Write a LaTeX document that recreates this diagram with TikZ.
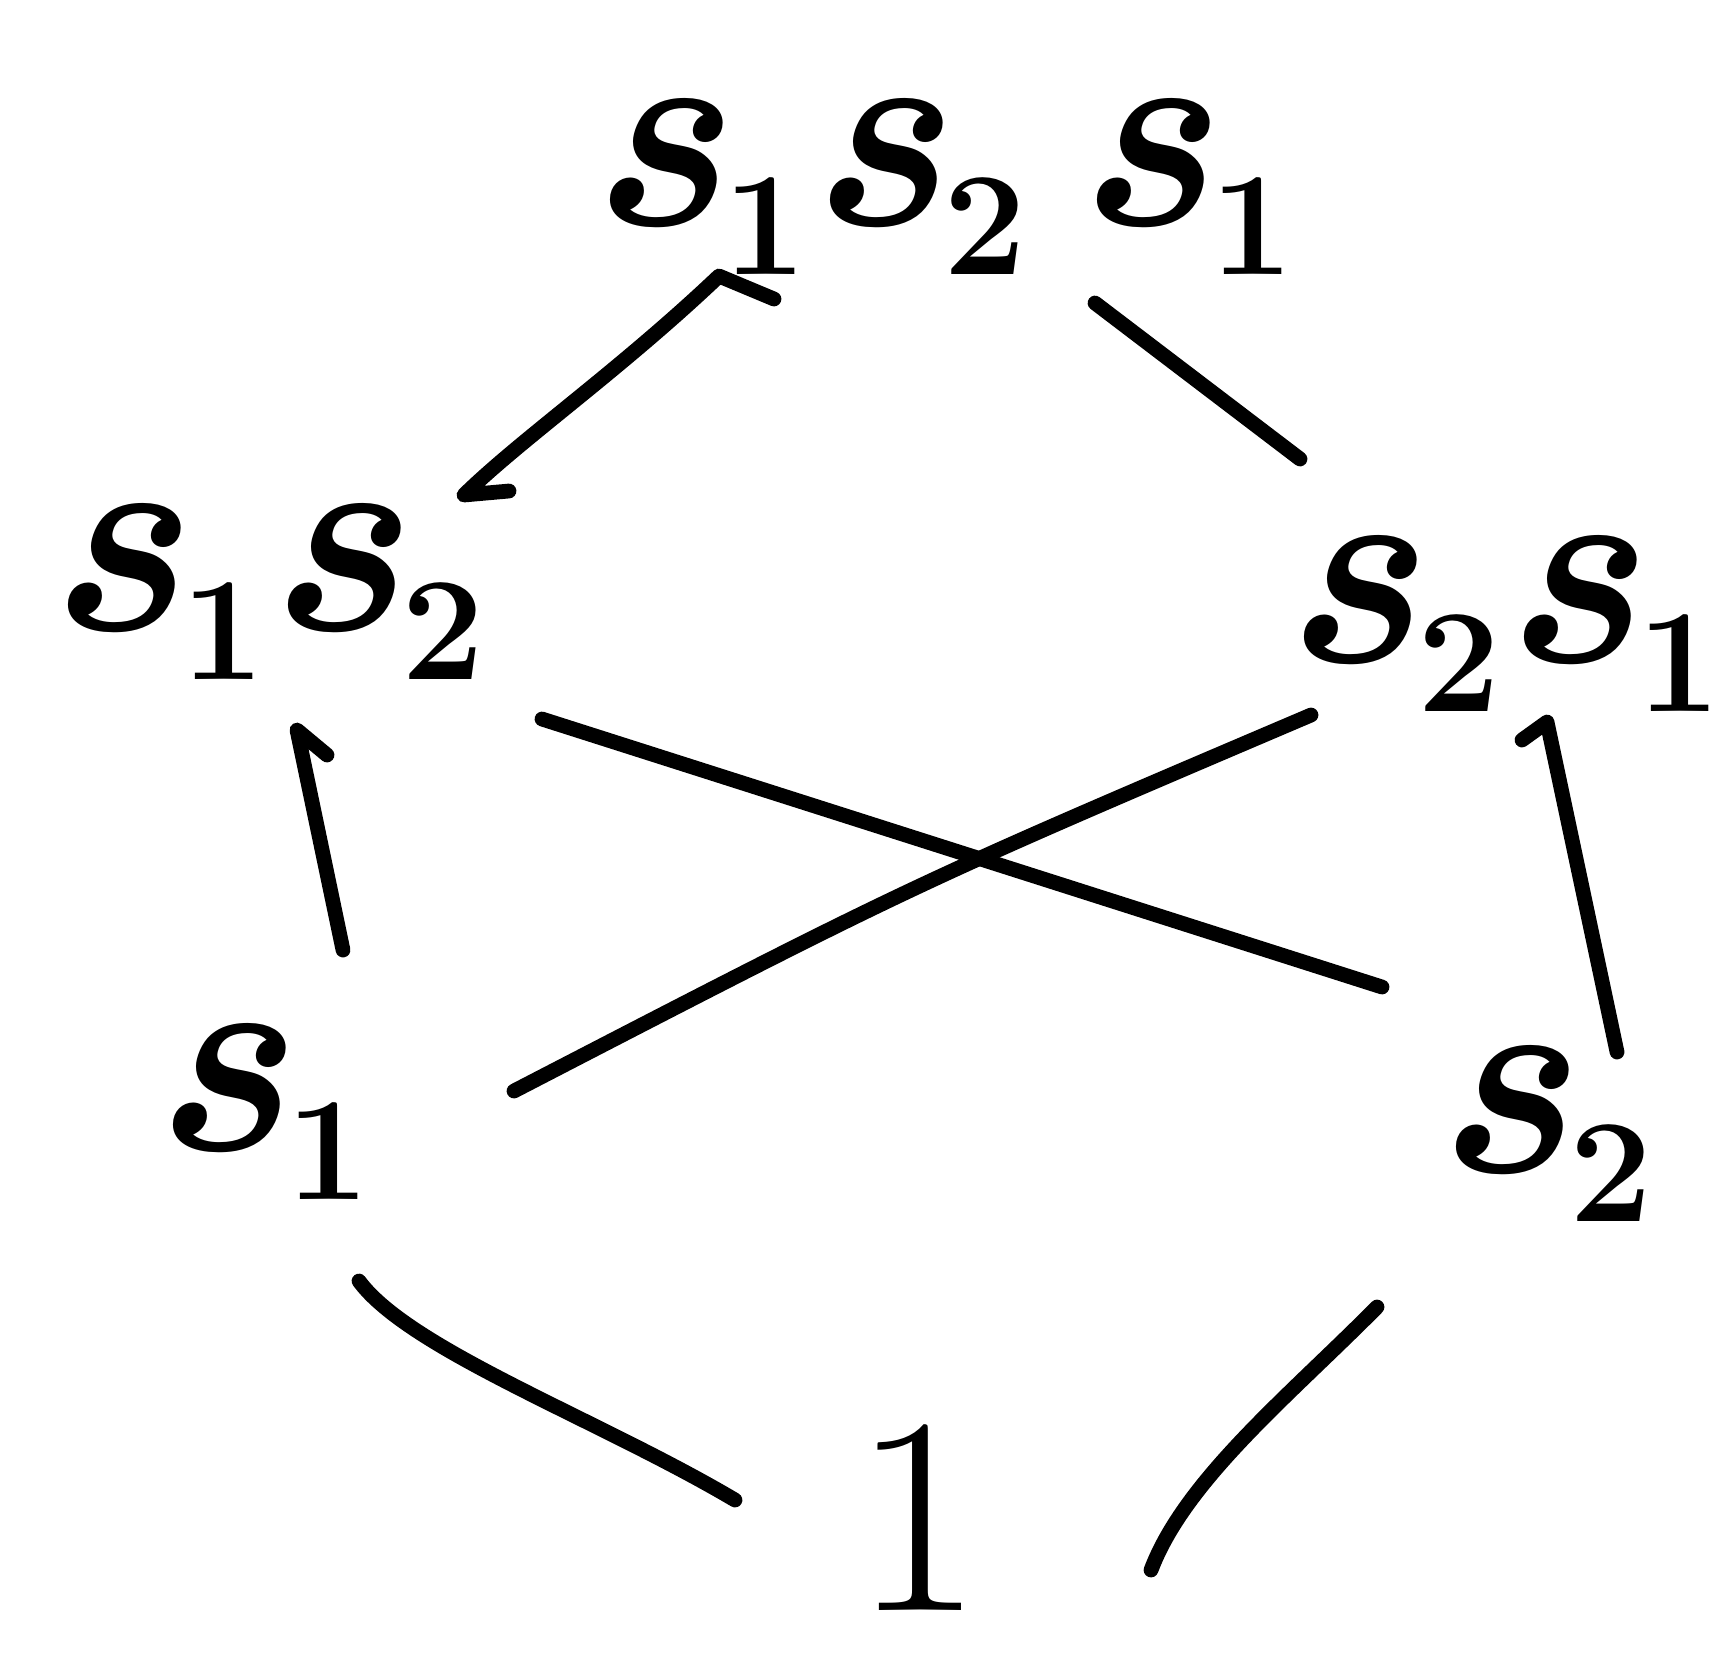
\documentclass[tikz,border=0pt]{standalone}
\usepackage{fontspec}
\setmainfont{Latin Modern Roman}
\usetikzlibrary{calc}
\newcommand{\ssub}[1]{\textbf{\textit{s}}\raisebox{-14pt}{\fontsize{42}{42}\selectfont\bfseries #1}}
\begin{document}
\begin{tikzpicture}[x=0.1mm,y=-0.1mm,
  lbl/.style={inner sep=0pt, anchor=base west, font=\fontsize{80}{96}\selectfont},
  edge/.style={line width=4.2pt, line cap=round, line join=round}]
\useasboundingbox (0,0) rectangle (1734,1675);
% nodes
\node[lbl] (top) at (586,225) {\ssub{1}\ssub{2}\,\ssub{1}};
\node[lbl] (s12) at (44,630) {\ssub{1}\ssub{2}};
\node[lbl] (s21) at (1280,662) {\ssub{2}\ssub{1}};
\node[lbl] (s1) at (149,1150) {\ssub{1}};
\node[lbl] (s2) at (1432,1172) {\ssub{2}};
\node[lbl,anchor=base] (one) at (918,1610) {1};
% connectors
\draw[edge] ($(top.base west)+(188,74)$) -- ($(top.base west)+(133,51)$)
  .. controls ($(top.base west)+(34,145)$) and ($(s12.base west)+(476,-190)$) .. ($(s12.base west)+(420,-135)$)
  -- ($(s12.base west)+(465,-139)$);
\draw[edge] ($(top.base west)+(509,78)$) -- ($(s21.base west)+(20,-203)$);
\draw[edge] ($(s1.base west)+(194,-200)$) -- ($(s12.base west)+(253,100)$) -- ($(s12.base west)+(283,125)$);
\draw[edge] ($(s12.base west)+(498,89)$) -- ($(s2.base west)+(-50,-185)$);
\draw[edge] ($(s21.base west)+(31,53)$) .. controls ($(s21.base west)+(-368,223)$) .. ($(s1.base west)+(365,-59)$);
\draw[edge] ($(s21.base west)+(242,78)$) -- ($(s21.base west)+(267,60)$) -- ($(s2.base west)+(185,-120)$);
\draw[edge] ($(s1.base west)+(210,131)$) .. controls ($(s1.base west)+(261,200)$) and ($(one.base)+(-318,-190)$) .. ($(one.base)+(-183,-110)$);
\draw[edge] ($(s2.base west)+(-55,135)$) .. controls ($(s2.base west)+(-142,223)$) and ($(one.base)+(267,-130)$) .. ($(one.base)+(233,-40)$);
\end{tikzpicture}
\end{document}
